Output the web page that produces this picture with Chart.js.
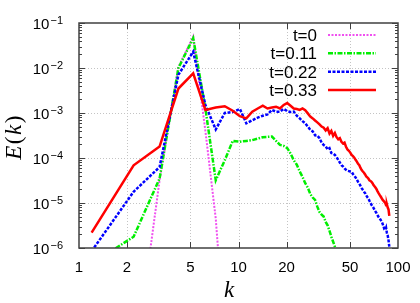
<!DOCTYPE html>
<html>
<head>
<meta charset="utf-8">
<script src="https://cdn.jsdelivr.net/npm/chart.js@4/dist/chart.umd.min.js"></script>
<style>
  html, body { margin: 0; padding: 0; background: #fff; }
  #wrap { width: 420px; height: 303px; }
</style>
</head>
<body>
<div id="wrap"><canvas id="spectrum" width="420" height="303"></canvas></div>
<script>
// wavenumber shells (x axis)
const kValues = [
  1.2, 2.2, 3.2, 4.2, 5.2, 6.2, 7.2, 8.2, 9.2, 10.2,
  11.2, 12.2, 13.2, 14.2, 15.2, 16.2, 17.2, 18.2, 19.2, 20.2,
  21.2, 22.2, 23.2, 24.2, 25.2, 26.2, 27.2, 28.2, 29.2, 30.2,
  31.2, 32.2, 33.2, 34.2, 35.2, 36.2, 37.2, 38.2, 39.2, 40.2,
  41.2, 42.2, 43.2, 44.2, 45.2, 46.2, 47.2, 48.2, 49.2, 50.2,
  51.2, 52.2, 53.2, 54.2, 55.2, 56.2, 57.2, 58.2, 59.2, 60.2,
  61.2, 62.2, 63.2, 64.2, 65.2, 66.2, 67.2, 68.2, 69.2, 70.2,
  71.2, 72.2, 73.2, 74.2, 75.2, 76.2, 77.2, 78.2, 79.2, 80.2,
  81.2, 82.2, 83.2, 84.2, 85.2, 86.2, 87.2, 88.2
];

const seriesLabels = ['t=0', 't=0.11', 't=0.22', 't=0.33'];

// E(k) at t=0 (index aligned with kValues)
const energyT0 = [null, 1.6e-9, 3.2e-5, 1.05e-2, 5.0e-2, 4.0e-4, 4.5e-6, 1e-8];

// E(k) at t=0.11
const energyT011 = [
  4.5e-7, 1.78e-6, 3.5e-5, 1.0e-2, 4.6e-2, 1.26e-3, 3.2e-5, 8.9e-5, 2.4e-4, 2.3e-4,
  2.4e-4, 2.5e-4, 2.7e-4, 2.9e-4, 2.95e-4, 3.0e-4, 2.4e-4, 1.95e-4, 1.86e-4, 1.66e-4,
  1.26e-4, 8.9e-5, 7.1e-5, 5.0e-5, 3.8e-5, 2.75e-5, 2.2e-5, 1.58e-5, 1.32e-5, 1.17e-5,
  8.3e-6, 6.3e-6, 5.5e-6, 5.0e-6, 3.8e-6, 3.2e-6, 2.4e-6, 1.78e-6, 1.38e-6, 1.07e-6,
  7.9e-7, 5.6e-7
];

// E(k) at t=0.22
const energyT022 = [
  8.5e-7, 1.78e-5, 6.3e-5, 7.1e-3, 2.3e-2, 1.51e-3, 4.3e-4, 1.0e-3, 1.05e-3, 1.23e-3,
  5.9e-4, 6.9e-4, 7.9e-4, 8.7e-4, 9.3e-4, 1.17e-3, 1.07e-3, 1.07e-3, 1.23e-3, 1.10e-3,
  1.05e-3, 1.07e-3, 8.7e-4, 7.6e-4, 6.6e-4, 5.9e-4, 5.0e-4, 4.2e-4, 3.9e-4, 3.2e-4,
  3.15e-4, 2.75e-4, 2.2e-4, 1.95e-4, 1.82e-4, 1.55e-4, 1.66e-4, 1.29e-4, 1.26e-4, 1.17e-4,
  1.05e-4, 9.1e-5, 7.9e-5, 6.9e-5, 6.5e-5, 5.9e-5, 5.5e-5, 5.2e-5, 5.1e-5, 5.0e-5,
  4.9e-5, 4.4e-5, 4.0e-5, 3.7e-5, 3.3e-5, 2.95e-5, 2.7e-5, 2.4e-5, 2.15e-5, 1.95e-5,
  1.78e-5, 1.66e-5, 1.48e-5, 1.35e-5, 1.26e-5, 1.12e-5, 1.02e-5, 9.1e-6, 8.5e-6, 7.8e-6,
  7.1e-6, 6.5e-6, 6.0e-6, 5.5e-6, 5.0e-6, 4.7e-6, 4.4e-6, 4.1e-6, 3.8e-6, 3.4e-6,
  3.0e-6, 2.6e-6, 2.5e-6, 2.8e-6, 2.15e-6, 1.9e-6, 1.5e-6, 1.07e-6
];

// E(k) at t=0.33
const energyT033 = [
  2.2e-6, 6.9e-5, 1.8e-4, 3.5e-3, 7.6e-3, 1.17e-3, 1.32e-3, 1.41e-3, 1.12e-3, 8.5e-4,
  7.6e-4, 1.07e-3, 1.26e-3, 1.45e-3, 1.26e-3, 1.32e-3, 1.38e-3, 1.26e-3, 1.51e-3, 1.66e-3,
  1.45e-3, 1.26e-3, 1.23e-3, 1.17e-3, 1.26e-3, 1.15e-3, 9.8e-4, 8.3e-4, 7.6e-4, 6.8e-4,
  6.2e-4, 5.6e-4, 5.0e-4, 4.7e-4, 4.1e-4, 4.6e-4, 3.5e-4, 4.0e-4, 3.1e-4, 3.6e-4,
  2.9e-4, 2.6e-4, 2.75e-4, 2.3e-4, 2.1e-4, 2.2e-4, 1.78e-4, 1.55e-4, 1.45e-4, 1.32e-4,
  1.17e-4, 1.10e-4, 1.02e-4, 9.1e-5, 8.3e-5, 7.4e-5, 6.9e-5, 6.0e-5, 5.4e-5, 5.0e-5,
  4.7e-5, 4.3e-5, 3.9e-5, 3.7e-5, 3.5e-5, 3.2e-5, 3.1e-5, 2.95e-5, 2.75e-5, 2.5e-5,
  2.35e-5, 2.2e-5, 2.05e-5, 1.86e-5, 1.7e-5, 1.58e-5, 1.45e-5, 1.35e-5, 1.26e-5, 1.17e-5,
  1.12e-5, 1.05e-5, 1.0e-5, 8.9e-6, 9.3e-6, 7.9e-6, 7.2e-6, 5.2e-6
];

const xTicks = [1, 2, 5, 10, 20, 50, 100];
const yExponents = [-6, -5, -4, -3, -2, -1];

const styles = [
  { color: '#f050f0', width: 2, dash: [2, 1.5] },
  { color: '#00ee00', width: 2.5, dash: [5, 1.5, 1.5, 1.5] },
  { color: '#0000ff', width: 2.5, dash: [3, 1.5] },
  { color: '#ff0000', width: 2.5, dash: [] }
];

const toPoints = vals => vals
  .map((v, i) => ({ x: kValues[i], y: v }))
  .filter(p => p.y !== null);

const allSeries = [energyT0, energyT011, energyT022, energyT033];

const sansFont = '"Liberation Sans", Arial, sans-serif';
const serifFont = '"Liberation Serif", "Times New Roman", serif';

// grid, frame, ticks, labels and key, gnuplot style
const framePlugin = {
  id: 'frame',
  beforeDatasetsDraw(chart) {
    const { ctx, chartArea: a, scales: { x, y } } = chart;
    ctx.save();
    ctx.strokeStyle = '#c4c4c4';
    ctx.lineWidth = 1;
    ctx.setLineDash([1, 2]);
    xTicks.slice(1, -1).forEach(v => {
      const px = Math.round(x.getPixelForValue(v)) + 0.5;
      ctx.beginPath(); ctx.moveTo(px, a.top); ctx.lineTo(px, a.bottom); ctx.stroke();
    });
    yExponents.slice(1, -1).forEach(e => {
      const py = Math.round(y.getPixelForValue(Math.pow(10, e))) + 0.5;
      ctx.beginPath(); ctx.moveTo(a.left, py); ctx.lineTo(a.right, py); ctx.stroke();
    });
    ctx.restore();
  },
  afterDatasetsDraw(chart) {
    const { ctx, chartArea: a, scales: { x, y } } = chart;
    ctx.save();
    ctx.setLineDash([]);
    ctx.strokeStyle = '#404040';
    ctx.lineWidth = 1.5;
    ctx.strokeRect(a.left, a.top, a.right - a.left, a.bottom - a.top);

    // tick marks
    ctx.lineWidth = 1;
    ctx.beginPath();
    xTicks.slice(1, -1).forEach(v => {
      const px = Math.round(x.getPixelForValue(v)) + 0.5;
      ctx.moveTo(px, a.bottom); ctx.lineTo(px, a.bottom - 6);
      ctx.moveTo(px, a.top); ctx.lineTo(px, a.top + 6);
    });
    yExponents.forEach(e => {
      const py = Math.round(y.getPixelForValue(Math.pow(10, e))) + 0.5;
      ctx.moveTo(a.left, py); ctx.lineTo(a.left + 6, py);
      ctx.moveTo(a.right, py); ctx.lineTo(a.right - 6, py);
      if (e === -1) return;
      for (let m = 2; m <= 9; m++) {
        const pm = Math.round(y.getPixelForValue(m * Math.pow(10, e))) + 0.5;
        ctx.moveTo(a.left, pm); ctx.lineTo(a.left + 3, pm);
        ctx.moveTo(a.right, pm); ctx.lineTo(a.right - 3, pm);
      }
    });
    ctx.stroke();

    // tick labels
    ctx.fillStyle = '#000';
    ctx.textAlign = 'center';
    ctx.textBaseline = 'alphabetic';
    ctx.font = '15px ' + sansFont;
    xTicks.forEach(v => ctx.fillText(String(v), x.getPixelForValue(v), 271.5));

    ctx.textAlign = 'right';
    yExponents.forEach(e => {
      const py = y.getPixelForValue(Math.pow(10, e));
      const sup = '\u2212' + (-e);
      ctx.font = '11px ' + sansFont;
      const sw = ctx.measureText(sup).width;
      ctx.fillText(sup, 63, py + 1);
      ctx.font = '15px ' + sansFont;
      ctx.fillText('10', 63 - sw - 1, py + 6);
    });

    // axis titles
    ctx.textAlign = 'center';
    ctx.font = 'italic 23px ' + serifFont;
    ctx.fillText('k', 229, 297);

    ctx.save();
    ctx.translate(21, 137);
    ctx.rotate(-Math.PI / 2);
    const parts = [['E', 'italic'], ['(', 'normal'], ['k', 'italic'], [')', 'normal']];
    const widths = parts.map(([t, st]) => {
      ctx.font = st + ' 23px ' + serifFont;
      return ctx.measureText(t).width + 1.5;
    });
    let cx = -widths.reduce((s, w) => s + w, 0) / 2;
    ctx.textAlign = 'left';
    parts.forEach(([t, st], i) => {
      ctx.font = st + ' 23px ' + serifFont;
      ctx.fillText(t, cx, 0);
      cx += widths[i];
    });
    ctx.restore();

    // key
    ctx.font = '17px ' + sansFont;
    ctx.textAlign = 'right';
    seriesLabels.forEach((lab, i) => {
      const ry = 35 + i * 18.33;
      ctx.fillStyle = '#000';
      ctx.fillText(lab, 317, ry + 6);
      const s = styles[i];
      ctx.strokeStyle = s.color;
      ctx.lineWidth = s.width;
      ctx.setLineDash(s.dash);
      ctx.beginPath(); ctx.moveTo(328, ry); ctx.lineTo(376, ry); ctx.stroke();
    });
    ctx.restore();
  }
};

new Chart(document.getElementById('spectrum'), {
  type: 'line',
  data: {
    datasets: allSeries.map((vals, i) => ({
      label: seriesLabels[i],
      data: toPoints(vals),
      borderColor: styles[i].color,
      borderWidth: styles[i].width,
      borderDash: styles[i].dash,
      pointRadius: 0,
      tension: 0,
      fill: false,
      clip: 0,
      order: 3 - i
    }))
  },
  options: {
    responsive: false,
    animation: false,
    layout: { padding: { left: 79, right: 22, top: 23, bottom: 55 } },
    plugins: { legend: { display: false }, tooltip: { enabled: false } },
    scales: {
      x: { type: 'logarithmic', min: 1, max: 100, display: false },
      y: { type: 'logarithmic', min: 1e-6, max: 1e-1, display: false }
    }
  },
  plugins: [framePlugin]
});
</script>
</body>
</html>
